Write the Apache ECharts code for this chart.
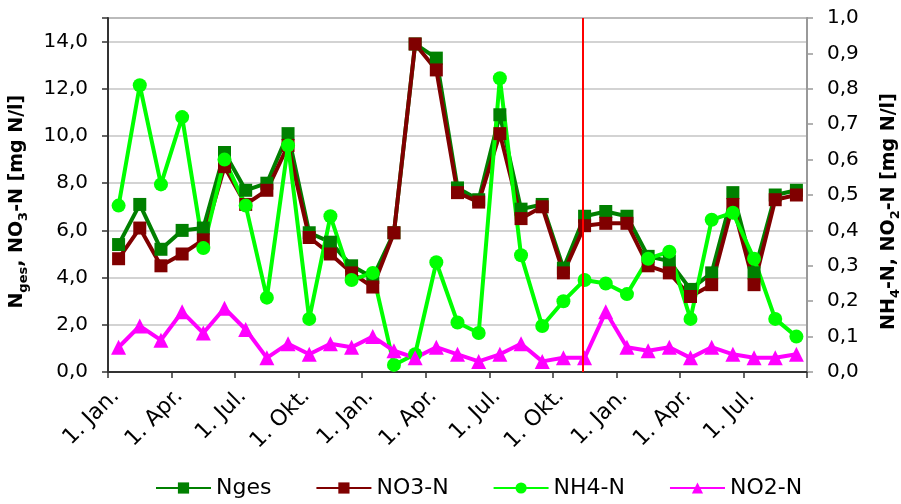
<!DOCTYPE html>
<html>
<head>
<meta charset="utf-8">
<script src="https://cdn.jsdelivr.net/npm/echarts@6/dist/echarts.min.js"></script>
<style>
html, body { margin: 0; padding: 0; background: #fff; }
#chart { width: 901px; height: 504px; }
</style>
</head>
<body>
<div id="chart"></div>
<script>
// x in months counted from 1. Jan. of the first year (mid-month samples)
const sampleMonth = [0.5, 1.5, 2.5, 3.5, 4.5, 5.5, 6.5, 7.5, 8.5, 9.5, 10.5, 11.5,
    12.5, 13.5, 14.5, 15.5, 16.5, 17.5, 18.5, 19.5, 20.5, 21.5, 22.5, 23.5,
    24.5, 25.5, 26.5, 27.5, 28.5, 29.5, 30.5, 31.5, 32.5];
const quarterLabels = ['1. Jan.', '1. Apr.', '1. Jul.', '1. Okt.'];
// left axis [mg N/l]
const nges = [5.4, 7.1, 5.2, 6.0, 6.1, 9.3, 7.7, 8.0, 10.1, 5.9, 5.5, 4.5,
    4.0, 5.9, 13.9, 13.3, 7.8, 7.3, 10.9, 6.9, 7.1, 4.4, 6.6, 6.8,
    6.6, 4.9, 4.7, 3.5, 4.2, 7.6, 4.2, 7.5, 7.7];
const no3 = [4.8, 6.1, 4.5, 5.0, 5.6, 8.7, 7.1, 7.7, 9.6, 5.7, 5.0, 4.2,
    3.6, 5.9, 13.9, 12.8, 7.6, 7.2, 10.1, 6.5, 7.0, 4.2, 6.2, 6.3,
    6.3, 4.5, 4.2, 3.2, 3.7, 7.1, 3.7, 7.3, 7.5];
// right axis [mg N/l]
const nh4 = [0.47, 0.81, 0.53, 0.72, 0.35, 0.60, 0.47, 0.21, 0.64, 0.15, 0.44, 0.26,
    0.28, 0.02, 0.05, 0.31, 0.14, 0.11, 0.83, 0.33, 0.13, 0.20, 0.26, 0.25,
    0.22, 0.32, 0.34, 0.15, 0.43, 0.45, 0.32, 0.15, 0.10];
const no2 = [0.07, 0.13, 0.09, 0.17, 0.11, 0.18, 0.12, 0.04, 0.08, 0.05, 0.08, 0.07,
    0.10, 0.06, 0.04, 0.07, 0.05, 0.03, 0.05, 0.08, 0.03, 0.04, 0.04, 0.17,
    0.07, 0.06, 0.07, 0.04, 0.07, 0.05, 0.04, 0.04, 0.05];
const redLineAt = 22.4;

const font = 'DejaVu Sans';
const pair = (ys) => ys.map((y, i) => [sampleMonth[i], y]);
const comma = (v, d) => v.toFixed(d).replace('.', ',');

// common settings for all four lines
const base = {
    type: 'line',
    lineStyle: { width: 4 },
    animation: false,
};
const subStyle = { fontFamily: font, fontSize: 13, fontWeight: 'bold', verticalAlign: 'bottom', padding: [12, 0, 0, 0] };
// trailing blanks push the rotated name a bit downwards
const nb = '\u00a0';

const chart = echarts.init(document.getElementById('chart'));
chart.setOption({
    animation: false,
    grid: {
        left: 108, right: 94, top: 18, bottom: 132,
        outerBoundsMode: 'none',
        show: true, borderColor: '#a0a0a0', borderWidth: 2,
    },
    legend: {
        bottom: 0,
        left: 150,
        itemWidth: 55,
        itemHeight: 14,
        itemGap: 44,
        textStyle: { fontFamily: font, fontSize: 22, color: '#000' },
        data: ['Nges', 'NO3-N', 'NH4-N', 'NO2-N'],
    },
    xAxis: {
        type: 'value',
        min: 0, max: 33, interval: 3,
        axisLine: { onZero: false, lineStyle: { color: '#333', width: 2 } },
        axisTick: { length: 6, lineStyle: { color: '#333', width: 1.5 } },
        splitLine: { show: false },
        axisLabel: {
            rotate: 45,
            margin: 13,
            verticalAlign: 'top',
            fontFamily: font, fontSize: 22, color: '#000',
            formatter: (v) => v >= 33 ? '' : quarterLabels[(v / 3) % 4],
        },
    },
    yAxis: [
        {
            type: 'value',
            min: 0, max: 15, interval: 2,
            axisLine: { show: true, lineStyle: { color: '#333', width: 2 } },
            axisTick: { show: true, length: 6, lineStyle: { color: '#333', width: 1.5 } },
            splitLine: { lineStyle: { color: '#c4c4c4', width: 1.5 } },
            axisLabel: {
                margin: 20, fontFamily: font, fontSize: 20, color: '#000',
                formatter: (v) => v > 14 ? '' : comma(v, 1),
            },
            name: 'N{sub|ges}, NO{sub|3}-N [mg N/l]' + nb + nb,
            nameLocation: 'middle',
            nameRotate: 90,
            nameGap: 78,
            nameTextStyle: {
                fontFamily: font, fontSize: 19, fontWeight: 'bold', color: '#000',
                rich: { sub: subStyle },
            },
        },
        {
            type: 'value',
            min: 0, max: 1, interval: 0.1,
            position: 'right',
            axisLine: { show: true, lineStyle: { color: '#999', width: 2 } },
            axisTick: { show: true, length: 6, lineStyle: { color: '#999', width: 1.5 } },
            splitLine: { show: false },
            axisLabel: {
                margin: 20, fontFamily: font, fontSize: 20, color: '#000',
                formatter: (v) => comma(v, 1),
            },
            name: 'NH{sub|4}-N, NO{sub|2}-N [mg N/l]' + nb.repeat(5),
            nameLocation: 'middle',
            nameRotate: 90,
            nameGap: 70,
            nameTextStyle: {
                fontFamily: font, fontSize: 19, fontWeight: 'bold', color: '#000',
                rich: { sub: subStyle },
            },
        },
    ],
    series: [
        Object.assign({}, base, {
            name: 'Nges', yAxisIndex: 0, data: pair(nges),
            color: '#008000', symbol: 'rect', symbolSize: 13,
        }),
        Object.assign({}, base, {
            name: 'NO3-N', yAxisIndex: 0, data: pair(no3),
            color: '#800000', symbol: 'rect', symbolSize: 13,
        }),
        Object.assign({}, base, {
            name: 'NH4-N', yAxisIndex: 1, data: pair(nh4),
            color: '#00ff00', symbol: 'circle', symbolSize: 14,
        }),
        Object.assign({}, base, {
            name: 'NO2-N', yAxisIndex: 1, data: pair(no2),
            color: '#ff00ff', symbol: 'triangle', symbolSize: 15,
            markLine: {
                silent: true,
                symbol: 'none',
                label: { show: false },
                lineStyle: { color: '#ff0000', width: 2, type: 'solid' },
                data: [{ xAxis: redLineAt }],
            },
        }),
    ],
});
</script>
</body>
</html>
